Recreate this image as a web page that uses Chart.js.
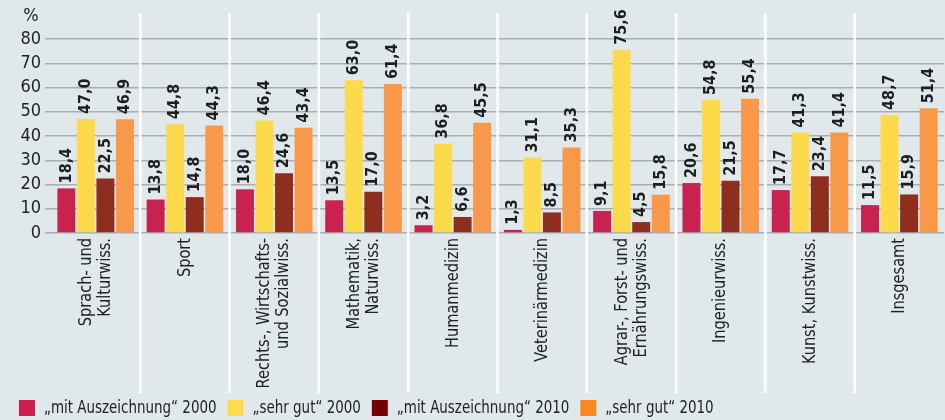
<!DOCTYPE html>
<html lang="de">
<head>
<meta charset="utf-8">
<script src="https://cdn.jsdelivr.net/npm/chart.js@4/dist/chart.umd.min.js"></script>
<style>
  html, body { margin: 0; padding: 0; background: #e1e8ec; }
  #wrap { width: 945px; height: 420px; position: relative; }
</style>
</head>
<body>
<div id="wrap"><canvas id="gradesChart"></canvas></div>
<script>
const FONT = "'Liberation Sans Narrow', 'DejaVu Sans Condensed', sans-serif";

// Fächergruppen (one entry per line of the rotated label)
const categories = [
    ["Sprach- und", "Kulturwiss."],
    ["Sport"],
    ["Rechts-, Wirtschafts-", "und Sozialwiss."],
    ["Mathematik,", "Naturwiss."],
    ["Humanmedizin"],
    ["Veterinärmedizin"],
    ["Agrar-, Forst- und", "Ernährungswiss."],
    ["Ingenieurwiss."],
    ["Kunst, Kunstwiss."],
    ["Insgesamt"],
];

const auszeichnung2000 = [18.4, 13.8, 18.0, 13.5, 3.2, 1.3, 9.1, 20.6, 17.7, 11.5];
const sehrGut2000      = [47.0, 44.8, 46.4, 63.0, 36.8, 31.1, 75.6, 54.8, 41.3, 48.7];
const auszeichnung2010 = [22.5, 14.8, 24.6, 17.0, 6.6, 8.5, 4.5, 21.5, 23.4, 15.9];
const sehrGut2010      = [46.9, 44.3, 43.4, 61.4, 45.5, 35.3, 15.8, 55.4, 41.4, 51.4];

const yTicks = [0, 10, 20, 30, 40, 50, 60, 70, 80];

const seriesLabels = ["„mit Auszeichnung“ 2000", "„sehr gut“ 2000", "„mit Auszeichnung“ 2010", "„sehr gut“ 2010"];
const barColors = ["#c8224e", "#fdd94c", "#8e2e1f", "#f8994a"];
const legendColors = ["#cc1f4f", "#fedb4c", "#780000", "#f7891f"];

// rotated text, squeezed along its own direction
function rotatedText(ctx, text, x, y, squeeze) {
    ctx.save();
    ctx.translate(x, y);
    ctx.rotate(-Math.PI / 2);
    ctx.scale(squeeze, 1);
    ctx.fillText(text, 0, 0);
    ctx.restore();
}

// white separators between groups, drawn over the grid but under the bars
const separators = {
    id: "separators",
    beforeDatasetsDraw(chart) {
        const { ctx, scales: { x } } = chart;
        ctx.save();
        ctx.strokeStyle = "#ffffff";
        ctx.lineWidth = 2.5;
        for (let i = 1; i < categories.length; i++) {
            const px = (x.getPixelForTick(i - 1) + x.getPixelForTick(i)) / 2;
            ctx.beginPath();
            ctx.moveTo(px, 13);
            ctx.lineTo(px, 393);
            ctx.stroke();
        }
        ctx.restore();
    }
};

// value labels, category labels, "%" unit and the legend row
const annotations = {
    id: "annotations",
    afterDatasetsDraw(chart) {
        const { ctx, scales: { x, y } } = chart;
        ctx.save();
        ctx.fillStyle = "#1e1e1e";
        ctx.font = "bold 16px " + FONT;
        ctx.textAlign = "left";
        ctx.textBaseline = "middle";
        chart.data.datasets.forEach((ds, di) => {
            chart.getDatasetMeta(di).data.forEach((bar, i) => {
                rotatedText(ctx, ds.data[i].toFixed(1).replace(".", ","), bar.x, bar.y - 5, 1);
            });
        });

        ctx.font = "18px " + FONT;
        ctx.fillStyle = "#222222";
        ctx.textAlign = "right";
        const lineH = 19;
        categories.forEach((lines, i) => {
            const cx = x.getPixelForTick(i);
            lines.forEach((line, li) => {
                const off = (li - (lines.length - 1) / 2) * lineH;
                rotatedText(ctx, line, cx + off, y.bottom + 5, 0.9);
            });
        });

        ctx.textAlign = "center";
        ctx.fillText("%", 31, 16);

        // legend
        const sx = 0.83;
        let lx = 19;
        ctx.textAlign = "left";
        seriesLabels.forEach((label, k) => {
            ctx.fillStyle = legendColors[k];
            ctx.fillRect(lx, 400, 16, 16);
            ctx.fillStyle = "#222222";
            ctx.save();
            ctx.translate(lx + 25, 408);
            ctx.scale(sx, 1);
            ctx.fillText(label, 0, 0);
            ctx.restore();
            lx += 25 + ctx.measureText(label).width * sx + 11;
        });
        ctx.restore();
    }
};

new Chart(document.getElementById("gradesChart"), {
    type: "bar",
    data: {
        labels: categories,
        datasets: [auszeichnung2000, sehrGut2000, auszeichnung2010, sehrGut2010].map((values, k) => ({
            label: seriesLabels[k],
            data: values,
            backgroundColor: barColors[k],
            categoryPercentage: 0.875,
            barPercentage: 0.92,
        })),
    },
    options: {
        responsive: true,
        maintainAspectRatio: false,
        animation: false,
        layout: { padding: { top: 39, left: 9, right: 1, bottom: 37 } },
        plugins: {
            tooltip: { enabled: false },
            legend: { display: false },
        },
        scales: {
            x: {
                grid: { display: false },
                border: { display: false },
                ticks: { display: false },
                afterFit: scale => { scale.height = 150; },
            },
            y: {
                min: 0,
                max: 80,
                afterBuildTicks: scale => { scale.ticks = yTicks.map(v => ({ value: v })); },
                afterFit: scale => { scale.width = 42; },
                grid: { color: "#a9aeb1", lineWidth: 1.5, tickLength: 6, drawTicks: true },
                border: { display: false },
                ticks: {
                    autoSkip: false,
                    color: "#222222",
                    padding: 4,
                    font: { family: FONT, size: 18 },
                },
            },
        },
    },
    plugins: [separators, annotations],
});
</script>
</body>
</html>
